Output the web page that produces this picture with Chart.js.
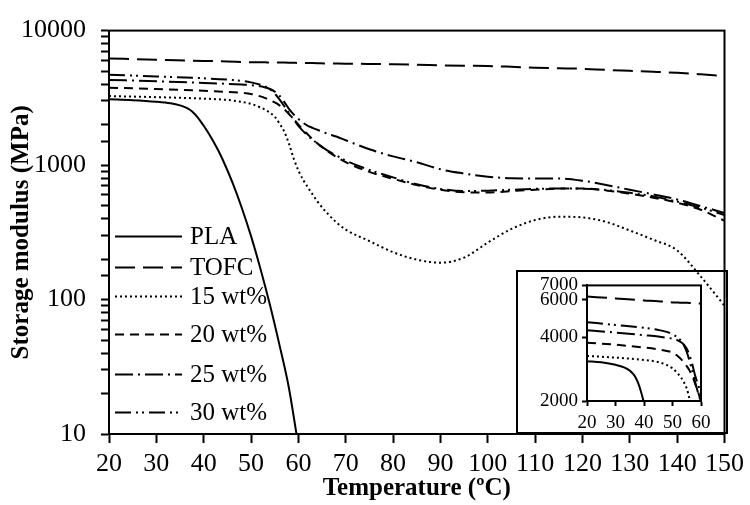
<!DOCTYPE html>
<html><head><meta charset="utf-8">
<script src="https://cdn.jsdelivr.net/npm/chart.js@4"></script>
<style>
html,body{margin:0;padding:0;background:#fff;}
#wrap{position:relative;width:750px;height:505px;}
#main{position:absolute;left:0;top:0;z-index:2;}
#inset{position:absolute;left:516px;top:270px;z-index:1;}
</style></head><body>
<div id="wrap">
<canvas id="inset" width="212" height="164"></canvas>
<canvas id="main" width="750" height="505"></canvas>
</div>
<script>
// ---- data ----
const seriesLabels = ['PLA','TOFC','15 wt%','20 wt%','25 wt%','30 wt%'];

const plaTemp = [20,25,30,33,35,36,37,38,39,40,41,43,44,46,48,50,52,54,56,58,59.6];
const plaMod  = [3080,3040,2960,2880,2780,2700,2590,2420,2200,1960,1730,1300,1100,753,486,296,169,91,46,22,10];

const temps = [20,30,40,45,48,50,52,53,54,55,56,57,58,59,60,61,62,63,64,66,68,70,75,80,85,90,95,100,105,110,115,120,125,130,135,140,145,150];
const tofcMod = [6200,6080,5950,5900,5850,5820,5810,5805,5800,5795,5790,5780,5770,5760,5750,5745,5740,5730,5720,5700,5690,5680,5650,5620,5580,5520,5480,5450,5380,5300,5250,5200,5100,5020,4940,4850,4730,4600];
const wt15Mod = [3260,3200,3120,3050,2950,2850,2680,2580,2450,2290,2040,1780,1445,1120,912,776,684,605,537,442,376,331,272,225,198,188,205,265,335,390,413,408,378,326,278,232,148,90];
const wt20Mod = [3760,3680,3570,3500,3440,3380,3240,3150,3040,2920,2780,2600,2400,2200,2000,1830,1690,1560,1450,1280,1150,1050,890,790,710,655,628,625,640,655,668,670,648,612,572,525,465,385];
const wt25Mod = [4300,4200,4080,4020,3970,3930,3850,3780,3680,3520,3280,2950,2620,2380,2200,2060,1960,1890,1830,1720,1630,1530,1310,1160,1050,930,865,820,798,795,795,765,712,655,605,555,495,440];
const wt30Mod = [4700,4560,4420,4320,4230,4120,3960,3840,3660,3400,3080,2750,2440,2180,1960,1790,1650,1540,1450,1290,1180,1080,920,810,720,665,640,645,655,665,670,668,652,622,585,535,482,425];

const xTickStep = 10;
const yLabelValues = [10,100,1000,10000];
const insetYTicks = [2000,4000,6000,7000];

// ---- styles ----
const dashes = [[],[20,8],[2,3],[9,6],[18,5,2,5],[16,5,2,4,2,5]];
const legendRowOffsets = [206,237,266,304,344,382];

Chart.defaults.font.family = '"Liberation Serif", "Times New Roman", serif';
Chart.defaults.color = '#000';

function pts(xs, ys){ return xs.map((x,i)=>({x:x, y:ys[i]})); }
const seriesData = [
  pts(plaTemp, plaMod), pts(temps, tofcMod), pts(temps, wt15Mod),
  pts(temps, wt20Mod), pts(temps, wt25Mod), pts(temps, wt30Mod)
];
function makeDatasets(){
  return seriesData.map((d,i)=>({
    label: seriesLabels[i], data: d, borderColor:'#000', borderWidth:2,
    borderDash: dashes[i], pointRadius:0, fill:false,
    cubicInterpolationMode:'monotone', tension:0.4
  }));
}

const framePlugin = {
  id:'frame',
  afterDraw(chart){
    const {ctx, chartArea:a} = chart;
    ctx.save(); ctx.strokeStyle='#000'; ctx.lineWidth=2; ctx.setLineDash([]);
    ctx.strokeRect(a.left, a.top, a.right-a.left, a.bottom-a.top);
    ctx.restore();
  }
};

const legendPlugin = {
  id:'customLegend',
  afterDatasetsDraw(chart){
    const {ctx, chartArea:a} = chart;
    ctx.save();
    ctx.font = '25px "Liberation Serif"';
    ctx.fillStyle='#000'; ctx.strokeStyle='#000'; ctx.lineWidth=2; ctx.textBaseline='middle';
    chart.data.datasets.forEach((ds,i)=>{
      const y = a.top + legendRowOffsets[i];
      ctx.setLineDash(ds.borderDash||[]);
      ctx.beginPath(); ctx.moveTo(a.left+6,y); ctx.lineTo(a.left+73,y); ctx.stroke();
      ctx.setLineDash([]);
      ctx.fillText(ds.label, a.left+81, y+1);
    });
    ctx.restore();
  }
};

new Chart(document.getElementById('main'), {
  type:'line',
  data:{datasets: makeDatasets()},
  options:{
    responsive:false, animation:false,
    layout:{padding:{left:0,right:22,top:25,bottom:0}},
    plugins:{legend:{display:false}, tooltip:{enabled:false}},
    scales:{
      x:{type:'linear', min:20, max:150,
        ticks:{stepSize:xTickStep, color:'#000', font:{size:26}, padding:6, maxRotation:0, autoSkip:false},
        grid:{drawOnChartArea:false, drawTicks:true, tickLength:9, tickColor:'#000', tickWidth:2},
        border:{display:true, color:'#000', width:2},
        title:{display:true, text:'Temperature (ºC)', color:'#000', font:{size:25, weight:'bold'}, padding:{top:0,bottom:1}},
        afterFit(s){ s.height = 71; }
      },
      y:{type:'logarithmic', min:10, max:10000,
        ticks:{color:'#000', font:{size:26}, padding:15, autoSkip:false,
          callback:(v)=> yLabelValues.includes(v) ? String(v) : ''},
        grid:{drawOnChartArea:false, drawTicks:true, tickLength:8, tickColor:'#000', tickWidth:2},
        border:{display:true, color:'#000', width:2},
        title:{display:true, text:'Storage modulus (MPa)', color:'#000', font:{size:25, weight:'bold'}, padding:{top:7,bottom:0}},
        afterFit(s){ s.width = 109; }
      }
    }
  },
  plugins:[framePlugin, legendPlugin]
});

const insetBoxPlugin = {
  id:'insetBox',
  beforeDraw(chart){
    const ctx = chart.ctx;
    ctx.save(); ctx.fillStyle='#fff'; ctx.fillRect(0,0,chart.width,chart.height);
    ctx.strokeStyle='#000'; ctx.lineWidth=2; ctx.strokeRect(1,1,chart.width-2,chart.height-2);
    ctx.restore();
  }
};

new Chart(document.getElementById('inset'), {
  type:'line',
  data:{datasets: makeDatasets()},
  options:{
    responsive:false, animation:false,
    layout:{padding:{left:0,right:27,top:10,bottom:0}},
    plugins:{legend:{display:false}, tooltip:{enabled:false}},
    scales:{
      x:{type:'linear', min:20, max:60,
        ticks:{stepSize:xTickStep, color:'#000', font:{size:19}, padding:6, maxRotation:0, autoSkip:false},
        grid:{drawOnChartArea:false, drawTicks:true, tickLength:5, tickColor:'#000', tickWidth:2},
        border:{display:true, color:'#000', width:2},
        afterFit(s){ s.height = 33; }
      },
      y:{type:'logarithmic', min:2000, max:7000,
        afterBuildTicks(s){ s.ticks = insetYTicks.map(v=>({value:v})); },
        ticks:{color:'#000', font:{size:19}, padding:4, autoSkip:false,
          callback:(v)=> String(v)},
        grid:{drawOnChartArea:false, drawTicks:true, tickLength:5, tickColor:'#000', tickWidth:2},
        border:{display:true, color:'#000', width:2},
        afterFit(s){ s.width = 71; }
      }
    }
  },
  plugins:[insetBoxPlugin, framePlugin]
});
</script>
</body></html>
